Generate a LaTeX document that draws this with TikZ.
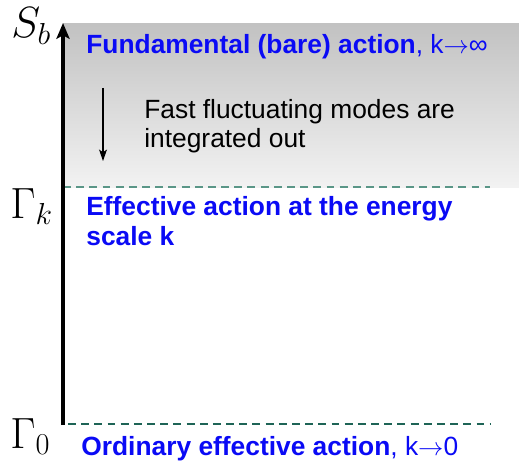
\documentclass[tikz,border=0pt]{standalone}
\usepackage{fontspec}
\setmainfont{Liberation Sans}
\usepackage{tikz}
\usetikzlibrary{arrows.meta}
\definecolor{actblue}{RGB}{10,10,245}
\definecolor{darkteal}{RGB}{30,100,86}
\definecolor{lightteal}{RGB}{90,150,135}
\tikzset{
  scale label/.style={anchor=base west, inner sep=0pt, font=\fontsize{24}{28}\selectfont},
  action/.style={anchor=base west, inner sep=0pt, align=left,
    font=\fontsize{15}{17}\selectfont\bfseries, text=actblue},
  note/.style={anchor=base west, inner sep=0pt, align=left,
    font=\fontsize{15}{17}\selectfont},
  flow axis/.style={line width=2.2pt, -{Stealth[length=9pt, width=7.5pt, inset=2pt]}},
  flow arrow/.style={line width=0.6pt, -{Stealth[length=6.5pt, width=4.5pt, inset=1.5pt]}},
  cut/.style={dash pattern=on 4.5pt off 3pt},
}

\begin{document}
\begin{tikzpicture}[x=0.02cm, y=-0.02cm]
  \useasboundingbox (0,0) rectangle (519,462);
  % integrated region
  \shade[top color=black!24, bottom color=black!5] (63,24) rectangle (519,187);

  \coordinate (bot) at (63,425);
  \coordinate (top) at (63,23);
  \coordinate (kcut) at (63,187);
  \coordinate (kcutend) at (490,187);
  \coordinate (zerocut) at (68,424);
  \coordinate (zerocutend) at (490,424);
  \coordinate (modes top) at (103,88);
  \coordinate (modes bot) at (103,161);

  \node[scale label, font=\fontsize{26}{30}\selectfont] (Sb) at (11,38) {$S_b$};
  \node[scale label] (Gk) at (10,218) {$\Gamma_k$};
  \node[scale label] (G0) at (10,448) {$\Gamma_0$};

  \node[action] (bare) at (86,54) {Fundamental (bare) action\mdseries, k$\rightarrow$∞};
  \node[note] (modes) at (144,148) {Fast fluctuating modes are\\integrated out};
  \node[action] (eff) at (86,245) {Effective action at the energy\\scale k};
  \node[action] (ord) at (81,455) {Ordinary effective action\mdseries, k$\rightarrow$0};

  \draw[cut, lightteal, line width=0.6pt] (kcut) -- (kcutend);
  \draw[cut, darkteal, line width=1.1pt] (zerocut) -- (zerocutend);
  \draw[flow axis] (bot) -- (top);
  \draw[flow arrow] (modes top) -- (modes bot);
\end{tikzpicture}
\end{document}
